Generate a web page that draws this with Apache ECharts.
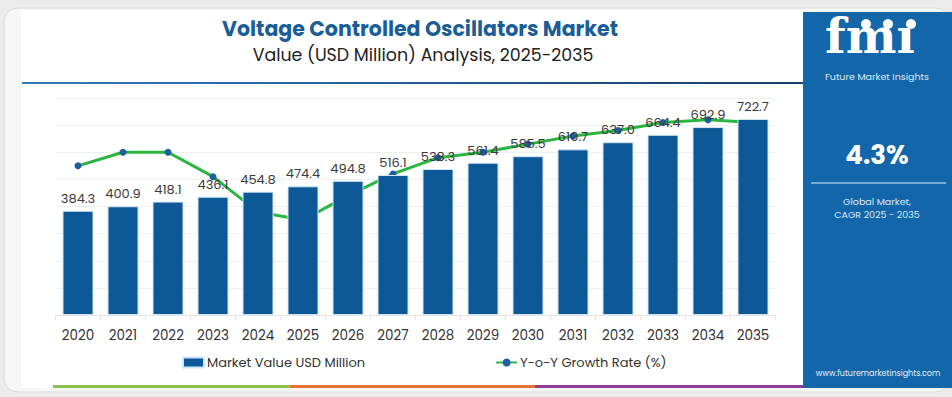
<!DOCTYPE html>
<html>
<head>
<meta charset="utf-8">
<title>Voltage Controlled Oscillators Market</title>
<script src="https://cdn.jsdelivr.net/npm/echarts@6/dist/echarts.min.js"></script>
<style>
  html, body { margin: 0; padding: 0; background: #ececec; }
  #chart { width: 952px; height: 397px; }
</style>
</head>
<body>
<div id="chart"></div>
<script>
// data
const years = ["2020", "2021", "2022", "2023", "2024", "2025", "2026", "2027",
  "2028", "2029", "2030", "2031", "2032", "2033", "2034", "2035"];
const marketValue = [384.3, 400.9, 418.1, 436.1, 454.8, 474.4, 494.8, 516.1,
  538.3, 561.4, 585.5, 610.7, 637.0, 664.4, 692.9, 722.7];
// growth line (no axis labels in the picture, estimated from position)
const growthRate = [4.45, 4.50, 4.50, 4.41, 4.28, 4.25, 4.34, 4.42,
  4.48, 4.50, 4.53, 4.56, 4.58, 4.61, 4.62, 4.61];
const cagrText = "4.3%";

const FONT = "Poppins, 'Noto Sans', 'Open Sans', sans-serif";

const chart = echarts.init(document.getElementById("chart"), null, { renderer: "svg" });

const option = {
  animation: false,
  textStyle: { fontFamily: FONT },
  title: [
    {
      text: "Voltage Controlled Oscillators Market",
      left: 415, top: 13, textAlign: "center",
      textStyle: { fontSize: 20.5, fontWeight: "bold", color: "#1a5d97", fontFamily: FONT },
    },
    {
      text: "Value (USD Million) Analysis, 2025-2035",
      left: 418, top: 41, textAlign: "center",
      textStyle: { fontSize: 17.4, fontWeight: "normal", color: "#222", fontFamily: FONT },
    },
  ],
  legend: {
    left: 182, top: 356,
    padding: 0,
    itemGap: 130,
    itemWidth: 21, itemHeight: 10,
    textStyle: { fontSize: 13, color: "#333", padding: [0, 0, 0, -2] },
    data: [
      { name: "Market Value USD Million", icon: "rect" },
      { name: "Y-o-Y Growth Rate (%)" },
    ],
  },
  grid: { left: 55.5, top: 98, width: 720, height: 217 },
  xAxis: {
    type: "category",
    data: years,
    axisLine: { lineStyle: { color: "#e4e4e4" } },
    axisTick: { show: true, lineStyle: { color: "#eedede" } },
    axisLabel: { fontSize: 13.5, color: "#333", margin: 13 },
  },
  yAxis: [
    {
      type: "value", min: 0, max: 800, interval: 100,
      axisLabel: { show: false },
      axisLine: { show: false },
      axisTick: { show: false },
      splitLine: { lineStyle: { color: "#efefef" } },
    },
    {
      type: "value", min: 3.9, max: 4.7,
      show: false,
      splitLine: { show: false },
    },
  ],
  series: [
    {
      name: "Y-o-Y Growth Rate (%)",
      type: "line",
      yAxisIndex: 1,
      z: 1,
      data: growthRate,
      symbol: "circle",
      symbolSize: 7,
      itemStyle: { color: "#1d5f9e" },
      lineStyle: { color: "#2bb541", width: 3 },
    },
    {
      name: "Market Value USD Million",
      type: "bar",
      z: 2,
      data: marketValue,
      barWidth: 31,
      itemStyle: { color: "#0d5897", borderColor: "#cfe6f6", borderWidth: 1 },
      label: {
        show: true, position: "top", distance: 6,
        fontSize: 13, color: "#3a3a3a",
        formatter: (p) => p.value.toFixed(1),
      },
    },
  ],
  graphic: [
    // card + panels behind the chart
    { type: "rect", z: -20, silent: true,
      shape: { x: 4, y: 8, width: 946, height: 384, r: 14 },
      style: { fill: "#f6f6f6", stroke: "#dcdcdc", lineWidth: 1 } },
    { type: "rect", z: -19, silent: true,
      shape: { x: 21, y: 10, width: 782, height: 378 },
      style: { fill: "#ffffff" } },
    { type: "rect", z: -18, silent: true,
      shape: { x: 22, y: 82, width: 781, height: 2 },
      style: { fill: new echarts.graphic.LinearGradient(0, 0, 1, 0, [
        { offset: 0, color: "#2f7bbf" }, { offset: 1, color: "#173f6b" }]) } },
    // coloured strip at the bottom
    { type: "rect", z: -18, silent: true,
      shape: { x: 53, y: 385, width: 237, height: 3 }, style: { fill: "#8cc152" } },
    { type: "rect", z: -18, silent: true,
      shape: { x: 290, y: 385, width: 245, height: 3 }, style: { fill: "#e8703a" } },
    { type: "rect", z: -18, silent: true,
      shape: { x: 535, y: 385, width: 268, height: 3 }, style: { fill: "#8e3c97" } },
    // right blue panel
    { type: "rect", z: -18, silent: true,
      shape: { x: 803, y: 12, width: 149, height: 376 },
      style: { fill: "#1266a9" } },
    { type: "text", z: 10, silent: true, left: 825, top: 12,
      style: { text: "fmı", fill: "#ffffff", fontSize: 48, fontWeight: "bold",
        fontFamily: "'DejaVu Serif', serif" } },
    { type: "circle", z: 10, silent: true, shape: { cx: 866, cy: 24, r: 5 }, style: { fill: "#ffffff" } },
    { type: "circle", z: 10, silent: true, shape: { cx: 888, cy: 24, r: 5 }, style: { fill: "#ffffff" } },
    { type: "circle", z: 10, silent: true, shape: { cx: 911, cy: 24, r: 5 }, style: { fill: "#ffffff" } },
    { type: "text", z: 10, silent: true, x: 877, y: 76,
      style: { text: "Future Market Insights", fill: "#dce9f5", fontSize: 9.5,
        align: "center", verticalAlign: "middle", fontFamily: FONT } },
    { type: "text", z: 10, silent: true, x: 877, y: 155,
      style: { text: cagrText, fill: "#ffffff", fontSize: 26, fontWeight: "bold",
        align: "center", verticalAlign: "middle", fontFamily: FONT } },
    { type: "line", z: 10, silent: true,
      shape: { x1: 811, y1: 183, x2: 946, y2: 183 },
      style: { stroke: "#9cc2e3", lineWidth: 1.5 } },
    { type: "text", z: 10, silent: true, x: 877, y: 201,
      style: { text: "Global Market,", fill: "#dce9f5", fontSize: 9.5,
        align: "center", verticalAlign: "middle", fontFamily: FONT } },
    { type: "text", z: 10, silent: true, x: 877, y: 214,
      style: { text: "CAGR 2025 - 2035", fill: "#dce9f5", fontSize: 9.5,
        align: "center", verticalAlign: "middle", fontFamily: FONT } },
    { type: "text", z: 10, silent: true, x: 878, y: 373,
      style: { text: "www.futuremarketinsights.com", fill: "#e6eff8", fontSize: 8,
        align: "center", verticalAlign: "middle", fontFamily: FONT } },
  ],
};

chart.setOption(option);
</script>
</body>
</html>
